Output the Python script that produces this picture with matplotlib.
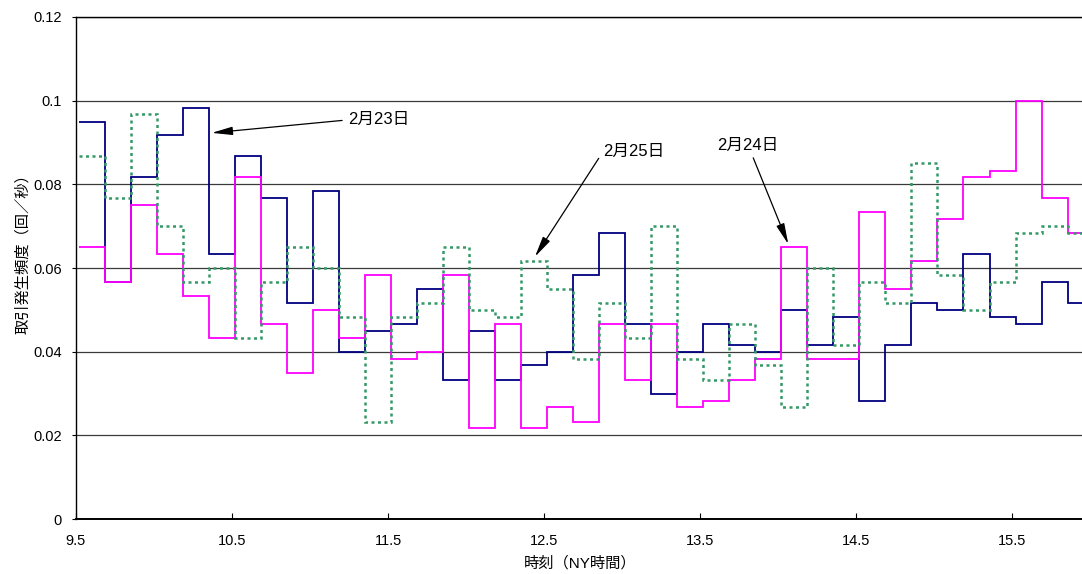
import numpy as np
import matplotlib.pyplot as plt

plt.rcParams['font.family'] = ['Liberation Sans', 'Noto Sans CJK JP']

# 10-minute bins starting at 9:31 NY time (decimal hours)
bin_start = 9.52
bin_width = 1 / 6

# trades per second in each 10-minute bin
feb23 = [0.095, 0.0567, 0.0817, 0.0917, 0.0983, 0.0633, 0.0867, 0.0767, 0.0517, 0.0783,
         0.040, 0.045, 0.0467, 0.055, 0.0333, 0.045, 0.0333, 0.0367, 0.040, 0.0583,
         0.0683, 0.0467, 0.030, 0.040, 0.0467, 0.0417, 0.040, 0.050, 0.0417, 0.0483,
         0.0283, 0.0417, 0.0517, 0.050, 0.0633, 0.0483, 0.0467, 0.0567, 0.0517]
feb24 = [0.065, 0.0567, 0.075, 0.0633, 0.0533, 0.0433, 0.0817, 0.0467, 0.035, 0.050,
         0.0433, 0.0583, 0.0383, 0.040, 0.0583, 0.0217, 0.0467, 0.0217, 0.0267, 0.0233,
         0.0467, 0.0333, 0.0467, 0.0267, 0.0283, 0.0333, 0.0383, 0.065, 0.0383, 0.0383,
         0.0733, 0.055, 0.0617, 0.0717, 0.0817, 0.0833, 0.100, 0.0767, 0.0683]
feb25 = [0.0867, 0.0767, 0.0967, 0.070, 0.0567, 0.060, 0.0433, 0.0567, 0.065, 0.060,
         0.0483, 0.0233, 0.0483, 0.0517, 0.065, 0.050, 0.0483, 0.0617, 0.055, 0.0383,
         0.0517, 0.0433, 0.070, 0.0383, 0.0333, 0.0467, 0.0367, 0.0267, 0.060, 0.0417,
         0.0567, 0.0517, 0.085, 0.0583, 0.050, 0.0567, 0.0683, 0.070, 0.0683]

x_ticks = [9.5, 10.5, 11.5, 12.5, 13.5, 14.5, 15.5]
y_ticks = [0, 0.02, 0.04, 0.06, 0.08, 0.10, 0.12]
y_ticklabels = ['0', '0.02', '0.04', '0.06', '0.08', '0.1', '0.12']

edges = bin_start + np.arange(len(feb23) + 1) * bin_width

fig = plt.figure(figsize=(10.82, 5.74), dpi=100)
ax = fig.add_axes([0.0702, 0.0958, 0.9298, 0.8746])

ax.stairs(feb23, edges, baseline=None, color='#000080', lw=1.3, zorder=3)
ax.stairs(feb24, edges, baseline=None, color='#FF00FF', lw=1.3, zorder=4)
ax.stairs(feb25, edges, baseline=None, color='#339966', lw=1.8,
          linestyle=(0, (1.2, 1.4)), zorder=5)

ax.set_xlim(9.5, 15.946)
ax.set_ylim(0, 0.12)

ax.set_yticks(y_ticks)
ax.set_yticklabels(y_ticklabels)
ax.set_xticks(x_ticks)
ax.set_xticklabels([str(t) for t in x_ticks])
ax.tick_params(axis='x', direction='in', length=4, width=0.8, pad=11, labelsize=10.5)
ax.tick_params(axis='y', direction='out', length=3, width=0.8, pad=7, labelsize=10.5)

ax.grid(axis='y', color='#3a3a3a', lw=0.9, zorder=1)
ax.set_axisbelow(True)
ax.spines['right'].set_visible(False)
ax.spines['left'].set_linewidth(1.0)
ax.spines['bottom'].set_linewidth(1.4)
ax.spines['top'].set_linewidth(1.0)

fig.text(580 / 1082, 1 - 563 / 574, '時刻（NY時間）', ha='center', va='center', fontsize=11)
fig.text(23 / 1082, 1 - 250 / 574, '取引発生頻度（回／秒）', ha='center', va='center',
         rotation=90, fontsize=11)

arrow = dict(arrowstyle='-|>,head_length=0.9,head_width=0.18', color='black',
             lw=0.9, mutation_scale=14, shrinkA=2, shrinkB=0)
ax.annotate('2月23日', xy=(10.37, 0.0923), xytext=(11.241, 0.0954),
            ha='left', va='center', fontsize=12,
            arrowprops=dict(arrow, relpos=(0, 0.5)), zorder=6)
ax.annotate('2月25日', xy=(12.441, 0.0627), xytext=(12.877, 0.0878),
            ha='left', va='center', fontsize=12,
            arrowprops=dict(arrow, relpos=(0, 0.5)), zorder=6)
ax.annotate('2月24日', xy=(14.064, 0.0657), xytext=(13.806, 0.0894),
            ha='center', va='center', fontsize=12,
            arrowprops=dict(arrow, relpos=(0.55, 0)), zorder=6)

plt.savefig('out.png', dpi=100)
